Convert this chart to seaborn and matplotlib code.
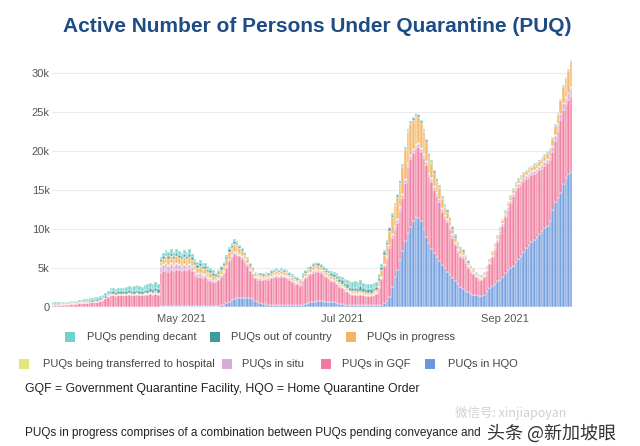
import matplotlib

matplotlib.use("Agg")
import matplotlib.dates as mdates
import matplotlib.pyplot as plt
import pandas as pd
import seaborn as sns
from matplotlib.patches import Rectangle

days = pd.date_range("2021-03-13", "2021-09-26", freq="D")

# daily values in hundreds of persons
hqo = [
    0, 0, 0, 0, 0, 0, 0, 0, 0, 0, 0, 0, 0, 0, 0, 0, 0, 0, 0, 0,
    0, 0, 0, 0, 0, 0, 0, 0, 0, 0, 0, 0, 0, 0, 0, 0, 0, 0, 0, 0, 0,
    1, 1, 1, 1, 1, 1, 1, 1, 1, 1, 1, 1, 1, 1, 1, 1, 1, 1, 1, 1, 1, 1,
    1, 2, 3, 5, 7, 9, 10, 11, 12, 12, 12, 12, 11, 10,
    8, 6, 5, 4, 4, 3, 3, 3, 3, 3, 3, 3, 3, 3, 2, 2, 2, 2,
    3, 4, 5, 6, 7, 8, 8, 8, 8, 7, 7, 6, 6, 5, 4, 4, 3, 3,
    2, 2, 2, 2, 2, 2, 2, 2, 2, 2,
    2, 3, 3, 5, 8, 13, 26, 38, 47, 60, 72, 85, 95, 103, 110, 115,
    114, 110, 100, 90, 82, 75, 69, 64, 59, 54, 50, 45, 41, 37, 33, 29, 26, 23, 21, 19,
    17, 16, 15, 14, 14,
    15, 20, 24, 27, 30, 33, 35, 39, 43, 47, 50, 53, 58, 62, 65, 70, 76, 80, 83, 86,
    90, 94, 98, 101, 104, 110, 125, 134, 140, 146, 158, 165, 171, 173,
]
gqf = [
    3, 3, 3, 3, 3, 4, 3, 4, 4, 4,
    5, 5, 5, 5, 6, 6, 7, 7, 8, 9, 11,
    13, 15, 15, 14, 15, 15, 15, 15, 16, 15, 15, 16, 15, 15, 16, 16, 17, 16, 17, 16,
    42, 45, 46, 44, 46, 45, 47, 46, 45, 47, 46, 48, 45, 40, 37, 38, 36, 37, 33, 32, 31, 31,
    33, 37, 40, 45, 52, 55, 58, 56, 53, 50, 46, 41, 35, 32,
    29, 29, 30, 30, 32, 32, 34, 35, 36, 35, 36, 35, 34, 32, 30, 28, 27, 25,
    30, 33, 35, 36, 37, 38, 37, 36, 33, 31, 29, 27, 26, 24, 22, 20, 18, 16,
    15, 14, 14, 13, 14, 13, 12, 12, 12, 13,
    15, 22, 33, 47, 54, 63, 63, 61, 61, 63, 68, 74, 85, 87, 87, 89,
    91, 89, 91, 92, 85, 85, 81, 78, 75, 68, 64, 64, 59, 52, 46, 41, 38, 40, 35, 31,
    28, 26, 23, 21, 20,
    23, 26, 31, 37, 43, 50, 59, 65, 72, 78, 83, 89, 92, 92, 93, 91, 88, 87, 86, 85,
    83, 82, 79, 80, 80, 78, 74, 79, 86, 94, 95, 95, 94, 98,
]
in_situ = [
    0, 0, 0, 0, 0, 0, 0, 0, 0, 0, 0, 0, 0, 0, 0, 0, 0, 0, 0, 0, 0,
    1, 1, 1, 1, 1, 1, 1, 1, 1, 1, 1, 1, 1, 1, 1, 1, 1, 1, 1, 1,
    8, 8, 9, 8, 8, 7, 7, 7, 6, 6, 5, 5, 5, 5, 4, 4, 4, 3, 3, 3, 2, 2,
    2, 2, 2, 2, 2, 2, 2, 2, 2, 2, 2, 2, 2, 2,
    2, 2, 2, 2, 2, 2, 2, 2, 2, 2, 2, 2, 2, 2, 2, 2, 2, 2,
    2, 2, 2, 2, 2, 2, 2, 2, 2, 2, 2, 2, 2, 2, 2, 2, 2, 2,
    1, 1, 1, 1, 1, 1, 1, 1, 1, 1,
    1, 1, 1, 2, 2, 3, 3, 4, 4, 4, 4, 4, 4, 4, 4, 4,
    4, 4, 4, 4, 4, 4, 4, 4, 4, 4, 3, 3, 3, 3, 3, 3, 3, 3, 3, 3,
    3, 2, 2, 2, 2,
    2, 2, 2, 2, 3, 3, 3, 3, 3, 3, 3, 3, 3, 4, 4, 4, 4, 4, 4, 4,
    4, 4, 5, 5, 5, 5, 6, 6, 7, 7, 8, 8, 9, 10,
]
to_hospital = [
    0, 0, 0, 0, 0, 0, 0, 0, 0, 0, 0, 0, 0, 0, 0, 0, 0, 0, 0, 0,
    0, 0, 0, 0, 0, 0, 0, 0, 0, 0, 0, 0, 0, 0, 0, 0, 0, 0, 0, 0, 0,
    1, 1, 1, 1, 1, 1, 1, 1, 1, 1, 1, 1, 1, 1, 1, 1, 1, 1, 1, 1, 1, 1,
    1, 1, 1, 1, 1, 1, 1, 1, 1, 1, 1, 1, 1, 1,
    1, 1, 1, 1, 1, 1, 1, 1, 1, 1, 1, 1, 1, 1, 1, 1, 1, 1,
    1, 1, 1, 1, 1, 1, 1, 1, 1, 1, 1, 1, 1, 1, 1, 1, 1, 1,
    1, 1, 1, 1, 1, 1, 1, 1, 1, 1,
    1, 1, 1, 1, 1, 1, 1, 1, 1, 1, 1, 1, 1, 1, 1, 1,
    1, 1, 1, 1, 1, 1, 1, 1, 1, 1, 1, 1, 1, 1, 1, 1, 1, 1, 1, 1,
    1, 1, 1, 1, 1,
    1, 1, 1, 1, 1, 1, 1, 1, 1, 1, 1, 1, 1, 1, 1, 1, 1, 1, 1, 1,
    1, 1, 1, 1, 1, 1, 1, 1, 1, 1, 1, 1, 1, 1,
]
in_progress = [
    0, 0, 0, 1, 1, 0, 1, 1, 1, 1,
    1, 1, 1, 1, 1, 1, 1, 1, 1, 1, 1,
    1, 1, 1, 1, 1, 1, 1, 1, 1, 1, 1, 1, 1, 1, 1, 1, 1, 1, 2, 1,
    6, 7, 8, 8, 9, 8, 9, 8, 8, 9, 8, 9, 8, 7, 7, 8, 7, 7, 7, 6, 5, 4,
    5, 6, 7, 8, 9, 9, 10, 9, 8, 7, 6, 5, 4, 3,
    3, 3, 3, 3, 3, 3, 4, 4, 4, 4, 4, 4, 3, 3, 3, 3, 3, 3,
    3, 4, 4, 4, 5, 5, 5, 4, 4, 4, 4, 4, 4, 4, 3, 3, 3, 3,
    2, 2, 2, 2, 3, 2, 2, 2, 2, 3,
    3, 6, 9, 12, 15, 18, 22, 25, 28, 31, 34, 37, 39, 39, 38, 36,
    34, 32, 28, 25, 22, 19, 17, 15, 13, 11, 10, 9, 8, 7, 6, 5, 5, 4, 4, 3,
    3, 3, 2, 2, 2,
    2, 2, 2, 3, 3, 3, 3, 3, 3, 4, 4, 4, 4, 4, 4, 5, 5, 5, 5, 6,
    6, 6, 7, 7, 8, 8, 10, 12, 14, 17, 20, 24, 28, 33,
]
out_of_country = [
    1, 1, 1, 1, 1, 1, 1, 1, 1, 1,
    1, 1, 2, 2, 2, 2, 2, 2, 2, 2, 2,
    2, 3, 3, 3, 3, 3, 3, 4, 4, 4, 4, 4, 4, 4, 4, 4, 5, 5, 5, 5,
    3, 4, 4, 4, 4, 4, 4, 4, 4, 4, 4, 4, 4, 4, 4, 4, 4, 4, 4, 4, 4, 3,
    3, 3, 3, 3, 3, 3, 3, 3, 2, 2, 2, 2, 2, 2,
    1, 1, 2, 2, 2, 2, 2, 2, 2, 2, 2, 2, 2, 2, 2, 2, 2, 2,
    2, 2, 2, 2, 3, 3, 3, 3, 3, 3, 3, 3, 3, 4, 4, 4, 4, 4,
    5, 5, 5, 5, 6, 5, 5, 5, 5, 5,
    4, 4, 4, 3, 3, 3, 3, 2, 2, 2, 2, 2, 2, 2, 2, 2,
    2, 2, 2, 2, 2, 2, 2, 2, 2, 2, 2, 2, 2, 2, 2, 2, 2, 2, 2, 2,
    1, 1, 1, 1, 1,
    1, 1, 1, 1, 1, 1, 1, 1, 1, 1, 1, 1, 1, 1, 1, 1, 1, 1, 1, 1,
    1, 1, 1, 1, 1, 1, 1, 1, 1, 1, 1, 1, 1, 1,
]
pending_decant = [
    2, 2, 2, 2, 2, 2, 2, 2, 2, 2,
    2, 2, 2, 2, 2, 3, 3, 3, 3, 4, 4,
    4, 4, 4, 4, 4, 5, 4, 5, 5, 5, 6, 6, 6, 5, 6, 7, 7, 7, 7, 7,
    3, 3, 4, 4, 5, 5, 6, 5, 4, 5, 5, 6, 4, 4, 4, 4, 3, 4, 3, 3, 3, 2,
    2, 2, 2, 3, 3, 3, 3, 2, 2, 2, 1, 1, 1, 1,
    1, 1, 1, 1, 1, 1, 1, 2, 2, 1, 2, 2, 2, 2, 2, 2, 1, 1,
    2, 2, 2, 2, 1, 1, 1, 1, 1, 2, 2, 3, 3, 3, 4, 4, 5, 5,
    7, 7, 8, 8, 8, 7, 6, 7, 6, 6,
    6, 5, 4, 3, 3, 2, 2, 2, 2, 2, 2, 2, 2, 2, 2, 2,
    2, 2, 2, 2, 2, 2, 2, 2, 2, 2, 2, 2, 2, 2, 2, 2, 2, 1, 1, 1,
    1, 1, 1, 1, 1,
    1, 1, 1, 1, 1, 1, 1, 1, 1, 1, 1, 1, 1, 1, 1, 1, 1, 1, 1, 1,
    1, 1, 1, 1, 1, 1, 1, 1, 1, 1, 1, 1, 1, 1,
]

series_names = [
    "PUQs pending decant",
    "PUQs out of country",
    "PUQs in progress",
    "PUQs being transferred to hospital",
    "PUQs in situ",
    "PUQs in GQF",
    "PUQs in HQO",
]
series_values = [pending_decant, out_of_country, in_progress, to_hospital,
                 in_situ, gqf, hqo]
series_colors = ["#72d1ca", "#3f9c9a", "#f5b461", "#e3e67d",
                 "#d6acd9", "#f2789e", "#6a98dc"]

x_tick_dates = ["2021-05-01", "2021-07-01", "2021-09-01"]
x_tick_labels = ["May 2021", "Jul 2021", "Sep 2021"]
y_ticks = [0, 5000, 10000, 15000, 20000, 25000, 30000]
y_tick_labels = ["0", "5k", "10k", "15k", "20k", "25k", "30k"]

title = "Active Number of Persons Under Quarantine (PUQ)"
note_1 = "GQF = Government Quarantine Facility, HQO = Home Quarantine Order"
note_2 = "PUQs in progress comprises of a combination between PUQs pending conveyance and"
watermark = "头条 @新加坡眼"
watermark_faint = "微信号: xinjiapoyan"

sns.set_theme(style="white")
plt.rcParams["font.family"] = ["Liberation Sans", "Noto Sans CJK SC", "DejaVu Sans"]

day_num = mdates.date2num(days)
frames = []
for name, vals in zip(series_names, series_values):
    assert len(vals) == len(days), (name, len(vals))
    frames.append(pd.DataFrame({"day": day_num, "series": name,
                                "persons": [v * 100 for v in vals]}))
df = pd.concat(frames, ignore_index=True)

W, H = 640, 446
fig = plt.figure(figsize=(W / 100, H / 100), dpi=100)
ax = fig.add_axes([51.7 / W, (H - 307) / H, 520.7 / W, 257.4 / H])

sns.histplot(data=df, x="day", weights="persons", hue="series",
             hue_order=series_names, palette=series_colors,
             multiple="stack", discrete=True, shrink=1, alpha=0.92,
             edgecolor="white", linewidth=0.35, legend=False, ax=ax)

ax.set_xlim(day_num[0] - 0.5, day_num[-1] + 0.5)
ax.set_ylim(0, 33000)
ax.set_xticks(mdates.date2num(pd.to_datetime(x_tick_dates)))
ax.set_xticklabels(x_tick_labels)
ax.set_yticks(y_ticks)
ax.set_yticklabels(y_tick_labels)
ax.tick_params(axis="both", length=0, labelsize=8, labelcolor="#555555")
ax.tick_params(axis="x", pad=5)
ax.tick_params(axis="y", pad=1.5)
ax.set_xlabel("")
ax.set_ylabel("")
ax.grid(axis="y", color="#ebebeb", linewidth=0.8)
ax.grid(axis="x", visible=False)
ax.set_axisbelow(True)
sns.despine(ax=ax, left=True, bottom=True)

fig.text(0.495, 1 - 27 / H, title, ha="center", va="center",
         fontsize=15, fontweight="bold", color="#1d4c86")

# legend laid out in two rows like the original
legend_rows = [
    (337, [(0, 65, 87), (1, 210, 231), (2, 346, 367)]),
    (364, [(3, 19, 43), (4, 222, 242), (5, 321, 342), (6, 425, 448)]),
]
for y_px, items in legend_rows:
    for idx, sq_x, tx_x in items:
        fig.patches.append(Rectangle((sq_x / W, (H - y_px - 5) / H), 10 / W, 10 / H,
                                     transform=fig.transFigure,
                                     color=series_colors[idx], lw=0))
        fig.text(tx_x / W, 1 - y_px / H, series_names[idx], ha="left",
                 va="center", fontsize=8, color="#444444")

fig.text(25 / W, 1 - 389 / H, note_1, ha="left", va="center",
         fontsize=8.8, color="#222222")
fig.text(25 / W, 1 - 433 / H, note_2, ha="left", va="center",
         fontsize=8.5, color="#222222")
fig.text(455 / W, 1 - 413 / H, watermark_faint, ha="left", va="center",
         fontsize=9, color="#d0d0d0", family=["Noto Sans CJK SC", "DejaVu Sans"])
fig.text(487 / W, 1 - 433 / H, watermark, ha="left", va="center",
         fontsize=13, color="#333333", family=["Noto Sans CJK SC", "DejaVu Sans"])

fig.savefig("out.png", dpi=100)
plt.close(fig)
